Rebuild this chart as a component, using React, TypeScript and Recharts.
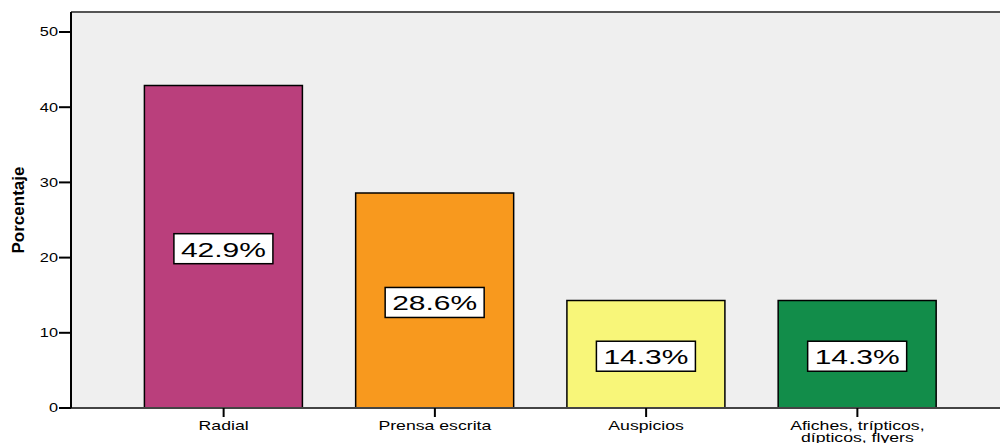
import { BarChart, Bar, XAxis, YAxis, CartesianGrid, ReferenceLine, LabelList, Cell } from 'recharts';

const categories = ['Radial', 'Prensa escrita', 'Auspicios', 'Afiches, trípticos, dípticos, flyers'];
const percentages = [42.9, 28.6, 14.3, 14.3];
const barColors = ['#BA3F7C', '#F8991E', '#F8F679', '#128D4A'];
const yTicks = [0, 10, 20, 30, 40, 50];
const yMax = 52.66;

const data = categories.map((name, i) => ({ name, value: percentages[i] }));

const FONT = 'Liberation Sans, Arial, sans-serif';
// the reference text looks horizontally stretched
const STRETCH = 1.36;
const stretchAt = (x: number) => `translate(${x},0) scale(${STRETCH},1) translate(${-x},0)`;

const XTick = ({ x, y, payload }: any) => {
  const label: string = payload.value;
  const lines = label.startsWith('Afiches') ? ['Afiches, trípticos,', 'dípticos, flyers'] : [label];
  return (
    <text x={x} y={y + 12} textAnchor="middle" fontSize={13} fontFamily={FONT} fill="#000" transform={stretchAt(x)}>
      {lines.map((l, i) => (
        <tspan key={i} x={x} dy={i === 0 ? 0 : 12}>{l}</tspan>
      ))}
    </text>
  );
};

const YTick = ({ x, y, payload }: any) => (
  <text x={x} y={y + 4.5} textAnchor="end" fontSize={12} fontFamily={FONT} fill="#000" transform={stretchAt(x)}>
    {payload.value}
  </text>
);

const BoxLabel = ({ x, y, width, height, value }: any) => {
  const cx = x + width / 2;
  const cy = y + height / 2 + 2;
  const w = 99;
  const h = 30;
  return (
    <g>
      <rect x={cx - w / 2} y={cy - h / 2} width={w} height={h} fill="#fff" stroke="#000" strokeWidth={1.5} />
      <text
        x={cx}
        y={cy + 8}
        textAnchor="middle"
        fontSize={21}
        fontFamily={FONT}
        fill="#000"
        textLength={85}
        lengthAdjust="spacingAndGlyphs"
      >
        {`${value}%`}
      </text>
    </g>
  );
};

export default function App() {
  return (
    <div style={{ position: 'fixed', left: 0, top: 0, width: 1000, height: 443, background: '#fff' }}>
      <BarChart
        width={1000}
        height={443}
        data={data}
        margin={{ top: 12, right: 0, left: 0, bottom: 0 }}
        barCategoryGap="12.5%"
      >
        <CartesianGrid horizontal={false} vertical={false} fill="#EFEFEF" />
        <ReferenceLine y={yMax} stroke="#555" strokeWidth={2} />
        <XAxis
          dataKey="name"
          tick={<XTick />}
          tickSize={9}
          tickMargin={1}
          tickLine={{ stroke: '#000', strokeWidth: 2 }}
          axisLine={{ stroke: '#444', strokeWidth: 2 }}
          padding={{ left: 47, right: 37 }}
          interval={0}
          height={35}
        />
        <YAxis
          domain={[0, yMax]}
          ticks={yTicks}
          allowDataOverflow
          tickSize={12}
          tickMargin={1}
          width={71}
          tick={<YTick />}
          tickLine={{ stroke: '#000', strokeWidth: 2 }}
          axisLine={{ stroke: '#000', strokeWidth: 2 }}
          label={{
            value: 'Porcentaje',
            angle: -90,
            position: 'insideLeft',
            offset: 18,
            style: { fontSize: 17, fontWeight: 'bold', fill: '#000', fontFamily: FONT, textAnchor: 'middle' },
          }}
        />
        <Bar dataKey="value" stroke="#000" strokeWidth={1.5} isAnimationActive={false}>
          {data.map((_d, i) => (
            <Cell key={i} fill={barColors[i]} />
          ))}
          <LabelList dataKey="value" content={<BoxLabel />} />
        </Bar>
      </BarChart>
    </div>
  );
}
